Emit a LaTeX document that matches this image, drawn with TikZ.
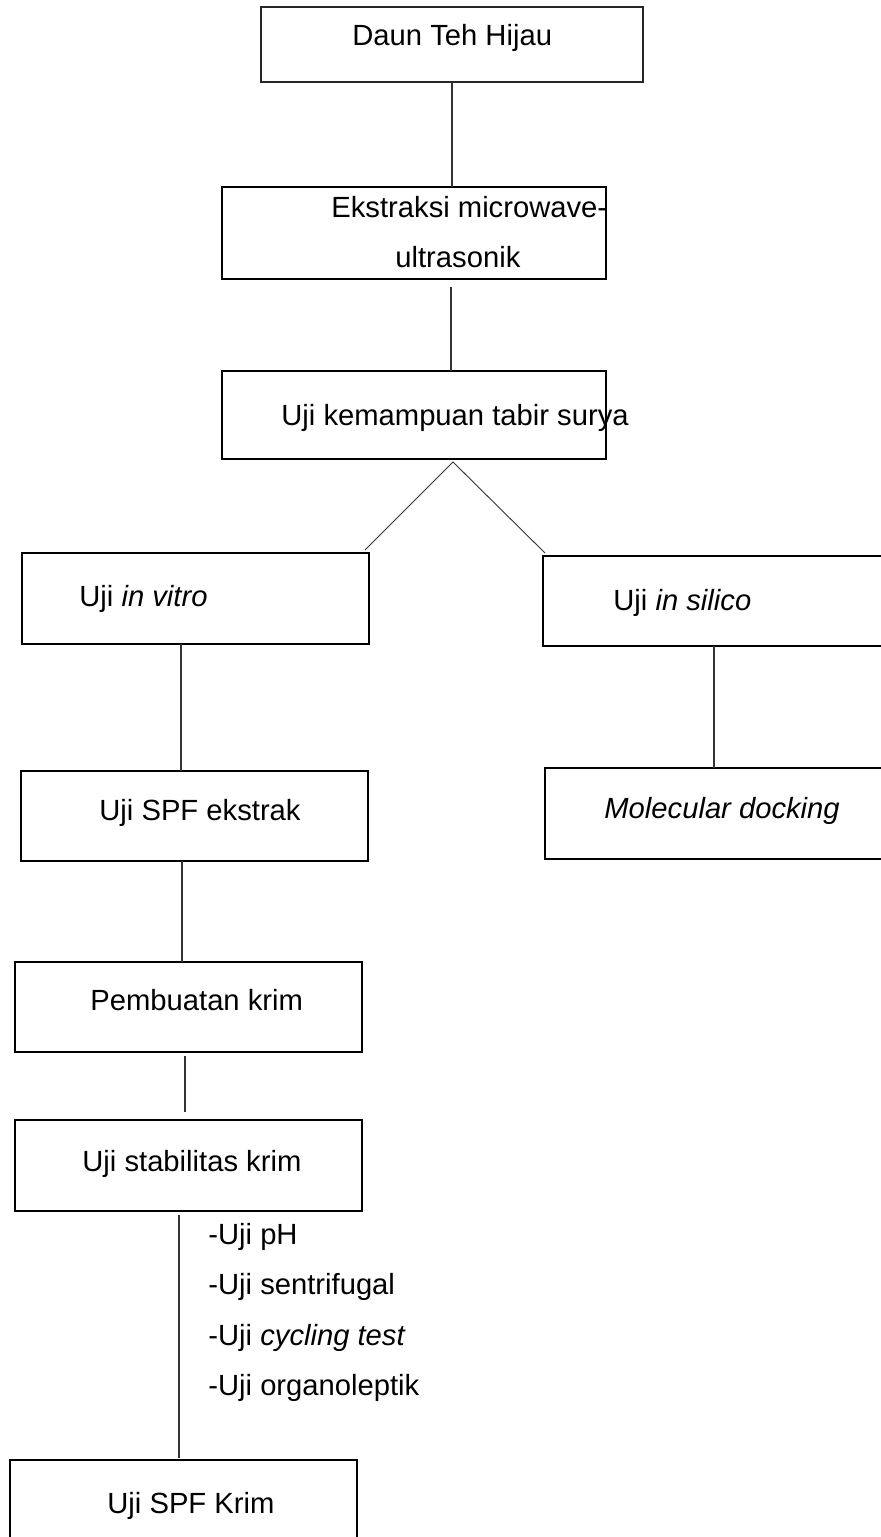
\documentclass[tikz,border=0pt]{standalone}
\usepackage{fontspec}
\setmainfont{Liberation Sans}
\usetikzlibrary{calc}

\begin{document}
\begin{tikzpicture}[
    x=0.5pt, y=-0.5pt,
    box/.style 2 args={rectangle, draw=black, line width=1.2pt, inner sep=0pt, outer sep=0pt, minimum width=#1, minimum height=#2},
    txt/.style={anchor=base west, inner sep=0pt, font=\fontsize{14.6pt}{17pt}\selectfont},
    link/.style={draw=black!80, line width=0.6pt}
]
\useasboundingbox (0,0) rectangle (881,1537);
\clip (0,0) rectangle (881,1537);

% boxes
\node[box={191pt}{37.5pt}, line width=0.6pt, draw=black!85] (daun) at (452,44.5) {};
\node[box={192pt}{46pt}] (ekstr) at (414,233) {};
\node[box={192pt}{44pt}] (tabir) at (414,415) {};
\node[box={173.5pt}{45.5pt}] (vitro) at (195.5,598.5) {};
\node[box={188.5pt}{45pt}] (silico) at (731.5,601) {};
\node[box={173.5pt}{45pt}] (spfext) at (194.5,816) {};
\node[box={187.5pt}{45.5pt}] (dock) at (732.5,813.5) {};
\node[box={173.5pt}{45pt}] (krim) at (188.5,1007) {};
\node[box={173.5pt}{45.5pt}] (stabil) at (188.5,1165.5) {};
\node[box={173.5pt}{45pt}] (spfkrim) at (183.5,1505) {};

% texts
\node[txt] (daun-t) at (352,45) {Daun Teh Hijau};
\node[txt] (ekstr-t1) at (331,217) {Ekstraksi microwave-};
\node[txt] (ekstr-t2) at (395,267) {ultrasonik};
\node[txt] (tabir-t) at (281,425) {Uji kemampuan tabir surya};
\node[txt] (vitro-t) at (79,606) {Uji \textit{in vitro}};
\node[txt] (silico-t) at (613,610) {Uji \textit{in silico}};
\node[txt] (spfext-t) at (99,820) {Uji SPF ekstrak};
\node[txt] (dock-t) at (604,818) {\textit{Molecular docking}};
\node[txt] (krim-t) at (90,1010) {Pembuatan krim};
\node[txt] (stabil-t) at (82,1171) {Uji stabilitas krim};
\node[txt] (ph) at (208,1244) {-Uji pH};
\node[txt] (sentri) at (208,1294) {-Uji sentrifugal};
\node[txt] (cycling) at (208,1345) {-Uji \textit{cycling test}};
\node[txt] (organo) at (208,1395) {-Uji organoleptik};
\node[txt] (spfkrim-t) at (107,1513) {Uji SPF Krim};

% connectors
\coordinate (apex) at ($(tabir.south)+(39,3)$);
\draw[link] (daun.south) -- (daun.south |- ekstr.north);
\draw[link] ($(ekstr.south)+(37,8)$) -- ($(tabir.north)+(37,0)$);
\draw[link, line width=0.45pt] ($(vitro.north east)+(-4,-3)$) -- (apex) -- ($(silico.north west)+(2,-3)$);
\draw[link] ($(vitro.south)+(-14.5,0)$) -- ($(spfext.north)+(-13.5,0)$);
\draw[link] ($(silico.south)+(-17.5,0)$) -- ($(dock.north)+(-18.5,0)$);
\draw[link] ($(spfext.south)+(-12.5,0)$) -- ($(krim.north)+(-6.5,0)$);
\draw[link] ($(krim.south)+(-3.5,4)$) -- ($(stabil.north)+(-3.5,-8)$);
\draw[link] ($(stabil.south)+(-9.5,4)$) -- ($(spfkrim.north)+(-4.5,-2)$);
\end{tikzpicture}
\end{document}
